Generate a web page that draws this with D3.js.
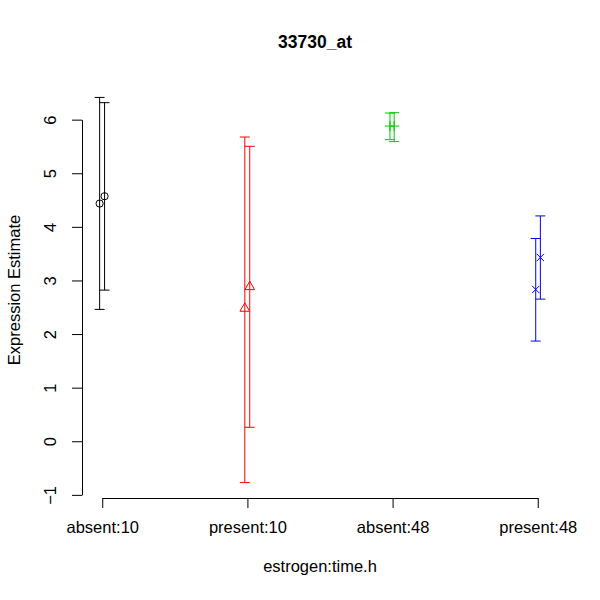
<!DOCTYPE html>
<html>
<head>
<meta charset="utf-8">
<script src="https://cdn.jsdelivr.net/npm/d3@7"></script>
<style>
  body { margin: 0; background: #fff; }
  svg { display: block; font-family: "Liberation Sans", Arial, Helvetica, sans-serif; }
</style>
</head>
<body>
<div id="chart"></div>
<script>
// data (two arrays per group)
var groups   = ["absent:10", "present:10", "absent:48", "present:48"];
var groupIdx = [1, 1, 2, 2, 3, 3, 4, 4];
var jitter   = [-0.018, 0.016, -0.018, 0.016, -0.018, 0.011, -0.014, 0.018];
var estimate = [4.435, 4.571, 2.478, 2.881, 5.881, 5.880, 2.832, 3.429];
var lower    = [2.460, 2.820, -0.771, 0.261, 5.627, 5.590, 1.869, 2.652];
var upper    = [6.415, 6.317, 5.676, 5.503, 6.123, 6.130, 3.783, 4.204];
var yTicks   = [-1, 0, 1, 2, 3, 4, 5, 6];
var colors   = ["#000000", "#FF0000", "#00CD00", "#0000FF"];
var shapes   = ["circle", "triangle", "plus", "cross"];

var title = "33730_at", xTitle = "estrogen:time.h", yTitle = "Expression Estimate";

var W = 600, H = 600;
var plot = {left: 82, right: 558, top: 82, bottom: 498};
var fontSize = 16.5;

var points = estimate.map(function (d, i) {
    return {g: groupIdx[i], x: groupIdx[i] + jitter[i], y: d, lo: lower[i], hi: upper[i]};
});

// R style 4% padding
function pad(ext) {
    var d = (ext[1] - ext[0]) * 0.04;
    return [ext[0] - d, ext[1] + d];
}
var xExt = pad(d3.extent(points, function (d) { return d.x; }));
var yExt = pad([d3.min(points, function (d) { return d.lo; }), d3.max(points, function (d) { return d.hi; })]);

var x = d3.scaleLinear().domain(xExt).range([plot.left, plot.right]);
var y = d3.scaleLinear().domain(yExt).range([plot.bottom, plot.top]);

var svg = d3.select("#chart").append("svg").attr("width", W).attr("height", H);

// axes drawn only between first and last tick
var xAxisScale = d3.scaleLinear().domain([1, 4]).range([x(1), x(4)]);
var yAxisScale = d3.scaleLinear().domain([yTicks[0], yTicks[yTicks.length - 1]])
    .range([y(yTicks[0]), y(yTicks[yTicks.length - 1])]);

var gx = svg.append("g")
    .attr("transform", "translate(0," + plot.bottom + ")")
    .call(d3.axisBottom(xAxisScale).tickValues([1, 2, 3, 4])
        .tickFormat(function (i) { return groups[i - 1]; })
        .tickSize(10).tickSizeOuter(0));
gx.attr("font-size", fontSize).attr("font-family", null);
gx.selectAll("text").attr("y", 35).attr("dy", "0").attr("fill", "#000");

var gy = svg.append("g")
    .attr("transform", "translate(" + plot.left + ",0)")
    .call(d3.axisLeft(yAxisScale).tickValues(yTicks).tickSize(10).tickSizeOuter(0)
        .tickFormat(function (d) { return d < 0 ? "\u2212" + Math.abs(d) : d; }));
gy.attr("font-size", fontSize).attr("font-family", null);
gy.selectAll("text")
    .attr("x", null).attr("dy", null)
    .attr("text-anchor", "middle")
    .attr("fill", "#000")
    .attr("transform", "translate(-26,0) rotate(-90)");

svg.selectAll(".domain, .tick line").attr("stroke", "#000");

// titles
svg.append("text").attr("x", 315).attr("y", 48)
    .attr("text-anchor", "middle").attr("font-weight", "bold").attr("font-size", 17.5)
    .text(title);
svg.append("text").attr("x", (plot.left + plot.right) / 2).attr("y", 572)
    .attr("text-anchor", "middle").attr("font-size", fontSize).text(xTitle);
svg.append("text")
    .attr("transform", "translate(20," + (plot.top + plot.bottom) / 2 + ") rotate(-90)")
    .attr("text-anchor", "middle").attr("font-size", fontSize).text(yTitle);

// error bars
var cap = 5;
var bars = svg.append("g").attr("fill", "none").attr("stroke-width", 1);
points.forEach(function (p) {
    var c = colors[p.g - 1], px = x(p.x);
    var path = d3.path();
    path.moveTo(px, y(p.lo)); path.lineTo(px, y(p.hi));
    path.moveTo(px - cap, y(p.hi)); path.lineTo(px + cap, y(p.hi));
    path.moveTo(px - cap, y(p.lo)); path.lineTo(px + cap, y(p.lo));
    bars.append("path").attr("d", path.toString()).attr("stroke", c);
});

// point symbols (R pch 1..4)
var r = 3.6;
function symbolPath(kind, cx, cy) {
    var p = d3.path();
    if (kind === "circle") {
        p.moveTo(cx + r, cy); p.arc(cx, cy, r, 0, 2 * Math.PI);
    } else if (kind === "triangle") {
        var top = r * 1.5551, yc = r * 0.7776, xc = r * 1.3468;
        p.moveTo(cx, cy - top); p.lineTo(cx + xc, cy + yc); p.lineTo(cx - xc, cy + yc); p.closePath();
    } else if (kind === "plus") {
        var s = r * Math.SQRT2;
        p.moveTo(cx - s, cy); p.lineTo(cx + s, cy);
        p.moveTo(cx, cy - s); p.lineTo(cx, cy + s);
    } else {
        p.moveTo(cx - r, cy - r); p.lineTo(cx + r, cy + r);
        p.moveTo(cx - r, cy + r); p.lineTo(cx + r, cy - r);
    }
    return p.toString();
}
svg.append("g").selectAll("path").data(points).join("path")
    .attr("d", function (d) { return symbolPath(shapes[d.g - 1], x(d.x), y(d.y)); })
    .attr("fill", "none")
    .attr("stroke", function (d) { return colors[d.g - 1]; })
    .attr("stroke-width", 1);
</script>
</body>
</html>
